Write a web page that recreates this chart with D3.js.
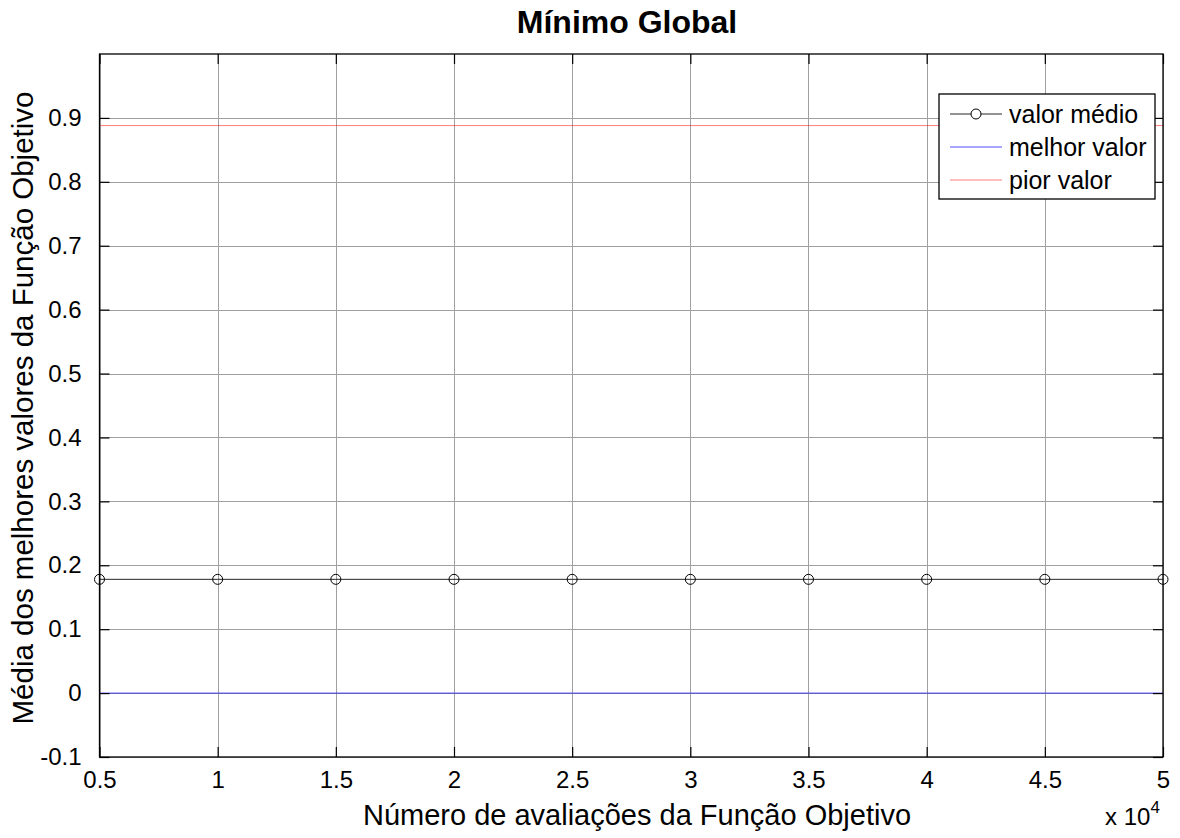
<!DOCTYPE html>
<html>
<head>
<meta charset="utf-8">
<script src="https://cdn.jsdelivr.net/npm/d3@7"></script>
<style>
  body { margin: 0; background: #fff; }
  svg { font-family: "Liberation Sans", Arial, sans-serif; }
</style>
</head>
<body>
<svg id="chart" width="1180" height="838"></svg>
<script>
//data
const evals = [5000, 10000, 15000, 20000, 25000, 30000, 35000, 40000, 45000, 50000];
const meanVals = [0.178, 0.178, 0.178, 0.178, 0.178, 0.178, 0.178, 0.178, 0.178, 0.178];
const bestVals = [0, 0, 0, 0, 0, 0, 0, 0, 0, 0];
const worstVals = [0.888, 0.888, 0.888, 0.888, 0.888, 0.888, 0.888, 0.888, 0.888, 0.888];
const xTicks = [5000, 10000, 15000, 20000, 25000, 30000, 35000, 40000, 45000, 50000];
const yTicks = [-0.1, 0, 0.1, 0.2, 0.3, 0.4, 0.5, 0.6, 0.7, 0.8, 0.9];
const legendItems = [
    { label: "valor médio", color: "#000", marker: true, values: meanVals },
    { label: "melhor valor", color: "#0000ff", marker: false, values: bestVals },
    { label: "pior valor", color: "#ff0000", marker: false, values: worstVals }
];

const plot = { left: 99.5, right: 1163, top: 54, bottom: 757 };
const tickLen = 10;

const svg = d3.select("#chart");

const x = d3.scaleLinear().domain([5000, 50000]).range([plot.left, plot.right]);
const y = d3.scaleLinear().domain([-0.1, 1.0]).range([plot.bottom, plot.top]);

//grid
const grid = svg.append("g").attr("class", "grid");
grid.selectAll("line.gx")
    .data(xTicks).enter()
  .append("line")
    .attr("x1", d => Math.round(x(d)) + 0.5).attr("x2", d => Math.round(x(d)) + 0.5)
    .attr("y1", plot.top).attr("y2", plot.bottom)
    .attr("stroke", "#a0a0a0").attr("stroke-width", 1);
grid.selectAll("line.gy")
    .data(yTicks).enter()
  .append("line")
    .attr("x1", plot.left).attr("x2", plot.right)
    .attr("y1", d => Math.round(y(d)) + 0.5).attr("y2", d => Math.round(y(d)) + 0.5)
    .attr("stroke", "#a0a0a0").attr("stroke-width", 1);

//series
const line = d3.line()
    .x((d, i) => x(evals[i]))
    .y(d => y(d));

const opacityOf = s => s.marker ? 0.85 : (s.color === "#0000ff" ? 0.7 : 0.5);

const series = svg.append("g").attr("class", "series");
legendItems.slice().reverse().forEach(s => {
    series.append("path")
        .datum(s.values)
        .attr("fill", "none")
        .attr("stroke", s.color)
        .attr("stroke-opacity", opacityOf(s))
        .attr("stroke-width", 1)
        .attr("d", line);
});
series.selectAll("circle.mk")
    .data(meanVals).enter()
  .append("circle")
    .attr("cx", (d, i) => x(evals[i]))
    .attr("cy", d => y(d))
    .attr("r", 5)
    .attr("fill", "none")
    .attr("stroke", "#000")
    .attr("stroke-width", 1);

//axes box
svg.append("rect")
    .attr("x", plot.left).attr("y", plot.top)
    .attr("width", plot.right - plot.left).attr("height", plot.bottom - plot.top)
    .attr("fill", "none").attr("stroke", "#000").attr("stroke-width", 1.3);

//ticks on all four sides, pointing inward
const fmt = d => String(Math.round(d * 10) / 10);
const axisBottom = d3.axisBottom(x).tickValues(xTicks).tickSizeInner(-tickLen).tickSizeOuter(0)
    .tickFormat(d => fmt(d / 10000)).tickPadding(14);
const axisTop = d3.axisTop(x).tickValues(xTicks).tickSizeInner(-tickLen).tickSizeOuter(0).tickFormat("");
const axisLeft = d3.axisLeft(y).tickValues(yTicks).tickSizeInner(-tickLen).tickSizeOuter(0)
    .tickFormat(fmt).tickPadding(18);
const axisRight = d3.axisRight(y).tickValues(yTicks).tickSizeInner(-tickLen).tickSizeOuter(0).tickFormat("");

[
    [axisBottom, `translate(0,${plot.bottom})`],
    [axisTop, `translate(0,${plot.top})`],
    [axisLeft, `translate(${plot.left},0)`],
    [axisRight, `translate(${plot.right},0)`]
].forEach(([ax, tr]) => {
    const g = svg.append("g").attr("transform", tr).call(ax);
    g.select(".domain").remove();
    g.selectAll(".tick line").attr("stroke", "#000").attr("stroke-width", 1.2);
    g.selectAll(".tick text")
        .attr("fill", "#000")
        .style("font-size", "24px")
        .style("font-family", "Liberation Sans, Arial, sans-serif");
});

//titles
svg.append("text")
    .attr("x", 627).attr("y", 33)
    .attr("text-anchor", "middle")
    .style("font-size", "32px").style("font-weight", "bold")
    .text("Mínimo Global");

svg.append("text")
    .attr("x", 637).attr("y", 825)
    .attr("text-anchor", "middle")
    .style("font-size", "29px")
    .text("Número de avaliações da Função Objetivo");

svg.append("text")
    .attr("transform", "translate(33,408) rotate(-90)")
    .attr("text-anchor", "middle")
    .style("font-size", "29.5px")
    .text("Média dos melhores valores da Função Objetivo");

const expo = svg.append("text")
    .attr("x", 1105).attr("y", 825)
    .style("font-size", "24px");
expo.append("tspan").text("x 10");
expo.append("tspan").attr("dy", -12).style("font-size", "17px").text("4");

//legend
const legend = svg.append("g").attr("transform", "translate(939,94)");
legend.append("rect")
    .attr("width", 216).attr("height", 105)
    .attr("fill", "#fff").attr("stroke", "#000").attr("stroke-width", 1.3);
const rows = legend.selectAll("g.row")
    .data(legendItems).enter()
  .append("g")
    .attr("class", "row")
    .attr("transform", (d, i) => `translate(0,${20 + i * 33})`);
rows.append("line")
    .attr("x1", 11).attr("x2", 63)
    .attr("stroke", d => d.color)
    .attr("stroke-opacity", opacityOf)
    .attr("stroke-width", 1);
rows.filter(d => d.marker).append("circle")
    .attr("cx", 37).attr("r", 5)
    .attr("fill", "#fff").attr("stroke", "#000");
rows.append("text")
    .attr("x", 70).attr("y", 9)
    .style("font-size", "25px")
    .text(d => d.label);
</script>
</body>
</html>
